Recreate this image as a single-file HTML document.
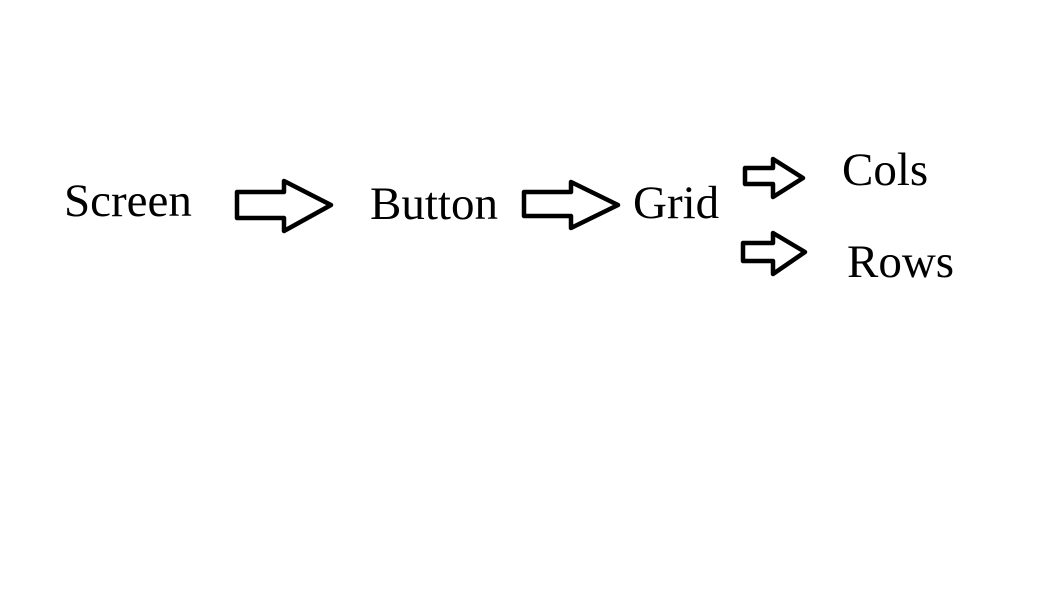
<!DOCTYPE html>
<html><head><style>
body{margin:0;width:1050px;height:615px;background:#fff;overflow:hidden}
svg{display:block}
text{font-family:"Liberation Serif",serif;font-size:47px;fill:#000}
</style></head><body>
<svg width="1050" height="615" xmlns="http://www.w3.org/2000/svg">
<g fill="none" stroke="#000" stroke-width="4.5" stroke-linejoin="round">
<path d="M237 192H284V181L331 205L284 231V218H237Z"/>
<path d="M524 192H571V182L618 205L571 228V216H524Z"/>
<path d="M745 168H773V159L803 178L773 197V184H745Z"/>
<path d="M743 243H773V233L805 252L773 274V261H743Z"/>
</g>
<text x="64" y="216">Screen</text>
<text x="370" y="219">Button</text>
<text x="633" y="218">Grid</text>
<text x="842" y="185">Cols</text>
<text x="847" y="277">Rows</text>
</svg>
</body></html>
